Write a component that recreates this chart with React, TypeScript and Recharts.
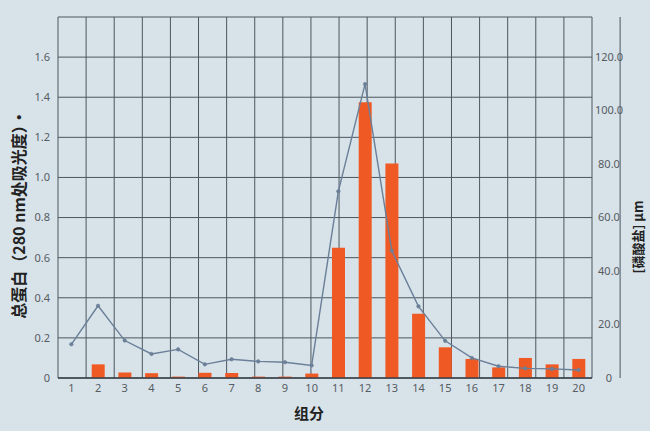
import React from 'react';
import { ComposedChart, Bar, Line, XAxis, YAxis, CartesianGrid } from 'recharts';

const categories = ['1','2','3','4','5','6','7','8','9','10','11','12','13','14','15','16','17','18','19','20'];
const proteinA280 = [0, 0.068, 0.027, 0.024, 0.007, 0.026, 0.025, 0.007, 0.007, 0.022, 0.65, 1.375, 1.07, 0.32, 0.153, 0.095, 0.053, 0.1, 0.068, 0.095];
const phosphate = [12.6, 27.0, 14.0, 9.0, 10.7, 5.1, 7.0, 6.2, 5.9, 4.7, 69.8, 109.9, 47.6, 26.8, 13.9, 7.5, 4.4, 3.6, 3.4, 3.0];
const leftTicks = [0, 0.2, 0.4, 0.6, 0.8, 1.0, 1.2, 1.4, 1.6, 1.8];
const rightTicks = [0, 20, 40, 60, 80, 100, 120];
const gridTicks = [0,1,2,3,4,5,6,7,8,9,10,11,12,13,14,15,16,17,18,19,20];

const leftTitle = '总蛋白（280 nm处吸光度）·';
const rightTitle = '[磷酸盐] µm';
const xTitle = '组分';

const data = categories.map((c, i) => ({ cat: c, protein: proteinA280[i], phos: phosphate[i] }));

const BG = '#d8e2e9';
const GRID = '#4b565e';
const TICK = '#555c62';
const FONT = '"Noto Sans", "Noto Sans CJK SC", sans-serif';

const RightTick = (props: any) => {
  const { x, y, payload } = props;
  const v = payload.value;
  return (
    <text x={x + 9} y={y} dy="0.355em" textAnchor="middle" fill={TICK} fontSize={11} fontFamily={FONT}>
      {v === 0 ? '0' : v.toFixed(1)}
    </text>
  );
};

export default function App() {
  return (
    <div style={{ position: 'absolute', left: 0, top: 0, width: 650, height: 431, background: BG }}>
      <ComposedChart width={650} height={431} data={data} margin={{ top: 17, right: 0, bottom: 0, left: 0 }}>
        <XAxis xAxisId="grid" type="number" domain={[0, 20]} ticks={gridTicks} hide />
        <XAxis
          xAxisId="cat"
          dataKey="cat"
          type="category"
          height={53}
          tickLine={false}
          tickSize={6}
          tickMargin={0}
          axisLine={{ stroke: '#3a4248', strokeWidth: 1.5 }}
          tick={{ fill: TICK, fontSize: 11, fontFamily: FONT }}
          interval={0}
        />
        <YAxis
          yAxisId="left"
          orientation="left"
          width={58}
          domain={[0, 1.8]}
          ticks={leftTicks}
          axisLine={false}
          tickLine={false}
          tick={{ fill: TICK, fontSize: 11, fontFamily: FONT }}
          tickFormatter={(v: number) => (v === 1.8 ? '' : v === 0 ? '0' : v.toFixed(1))}
        />
        <YAxis
          yAxisId="right"
          orientation="right"
          width={58}
          domain={[0, 135]}
          ticks={rightTicks}
          axisLine={false}
          tickLine={false}
          tick={<RightTick />}
        />
        <CartesianGrid xAxisId="grid" yAxisId="left" stroke={GRID} strokeWidth={1} fill="none" />
        <Bar xAxisId="cat" yAxisId="left" dataKey="protein" fill="#ef5a24" barSize={13} isAnimationActive={false} />
        <Line
          xAxisId="cat"
          yAxisId="right"
          dataKey="phos"
          type="linear"
          stroke="#6a7f98"
          strokeWidth={1.4}
          dot={{ r: 1.8, fill: '#6a7f98', stroke: '#6a7f98', strokeWidth: 0.5 }}
          isAnimationActive={false}
        />
      </ComposedChart>
      <svg width={650} height={431} style={{ position: 'absolute', left: 0, top: 0, pointerEvents: 'none' }}>
        <text x={18} y={214} transform="rotate(-90 18 214)" textAnchor="middle" dominantBaseline="central"
          fontSize={16} fontWeight="bold" fill="#222" fontFamily='"Noto Sans CJK SC", sans-serif'>{leftTitle}</text>
        <text x={637} y={237} transform="rotate(-90 637 237)" textAnchor="middle" dominantBaseline="central"
          fontSize={13} fontWeight="bold" fill="#222" fontFamily='"Noto Sans CJK SC", sans-serif'>{rightTitle}</text>
        <text x={309} y={412} textAnchor="middle" dominantBaseline="central"
          fontSize={15} fontWeight="bold" fill="#222" fontFamily='"Noto Sans CJK SC", sans-serif'>{xTitle}</text>
      </svg>
    </div>
  );
}
